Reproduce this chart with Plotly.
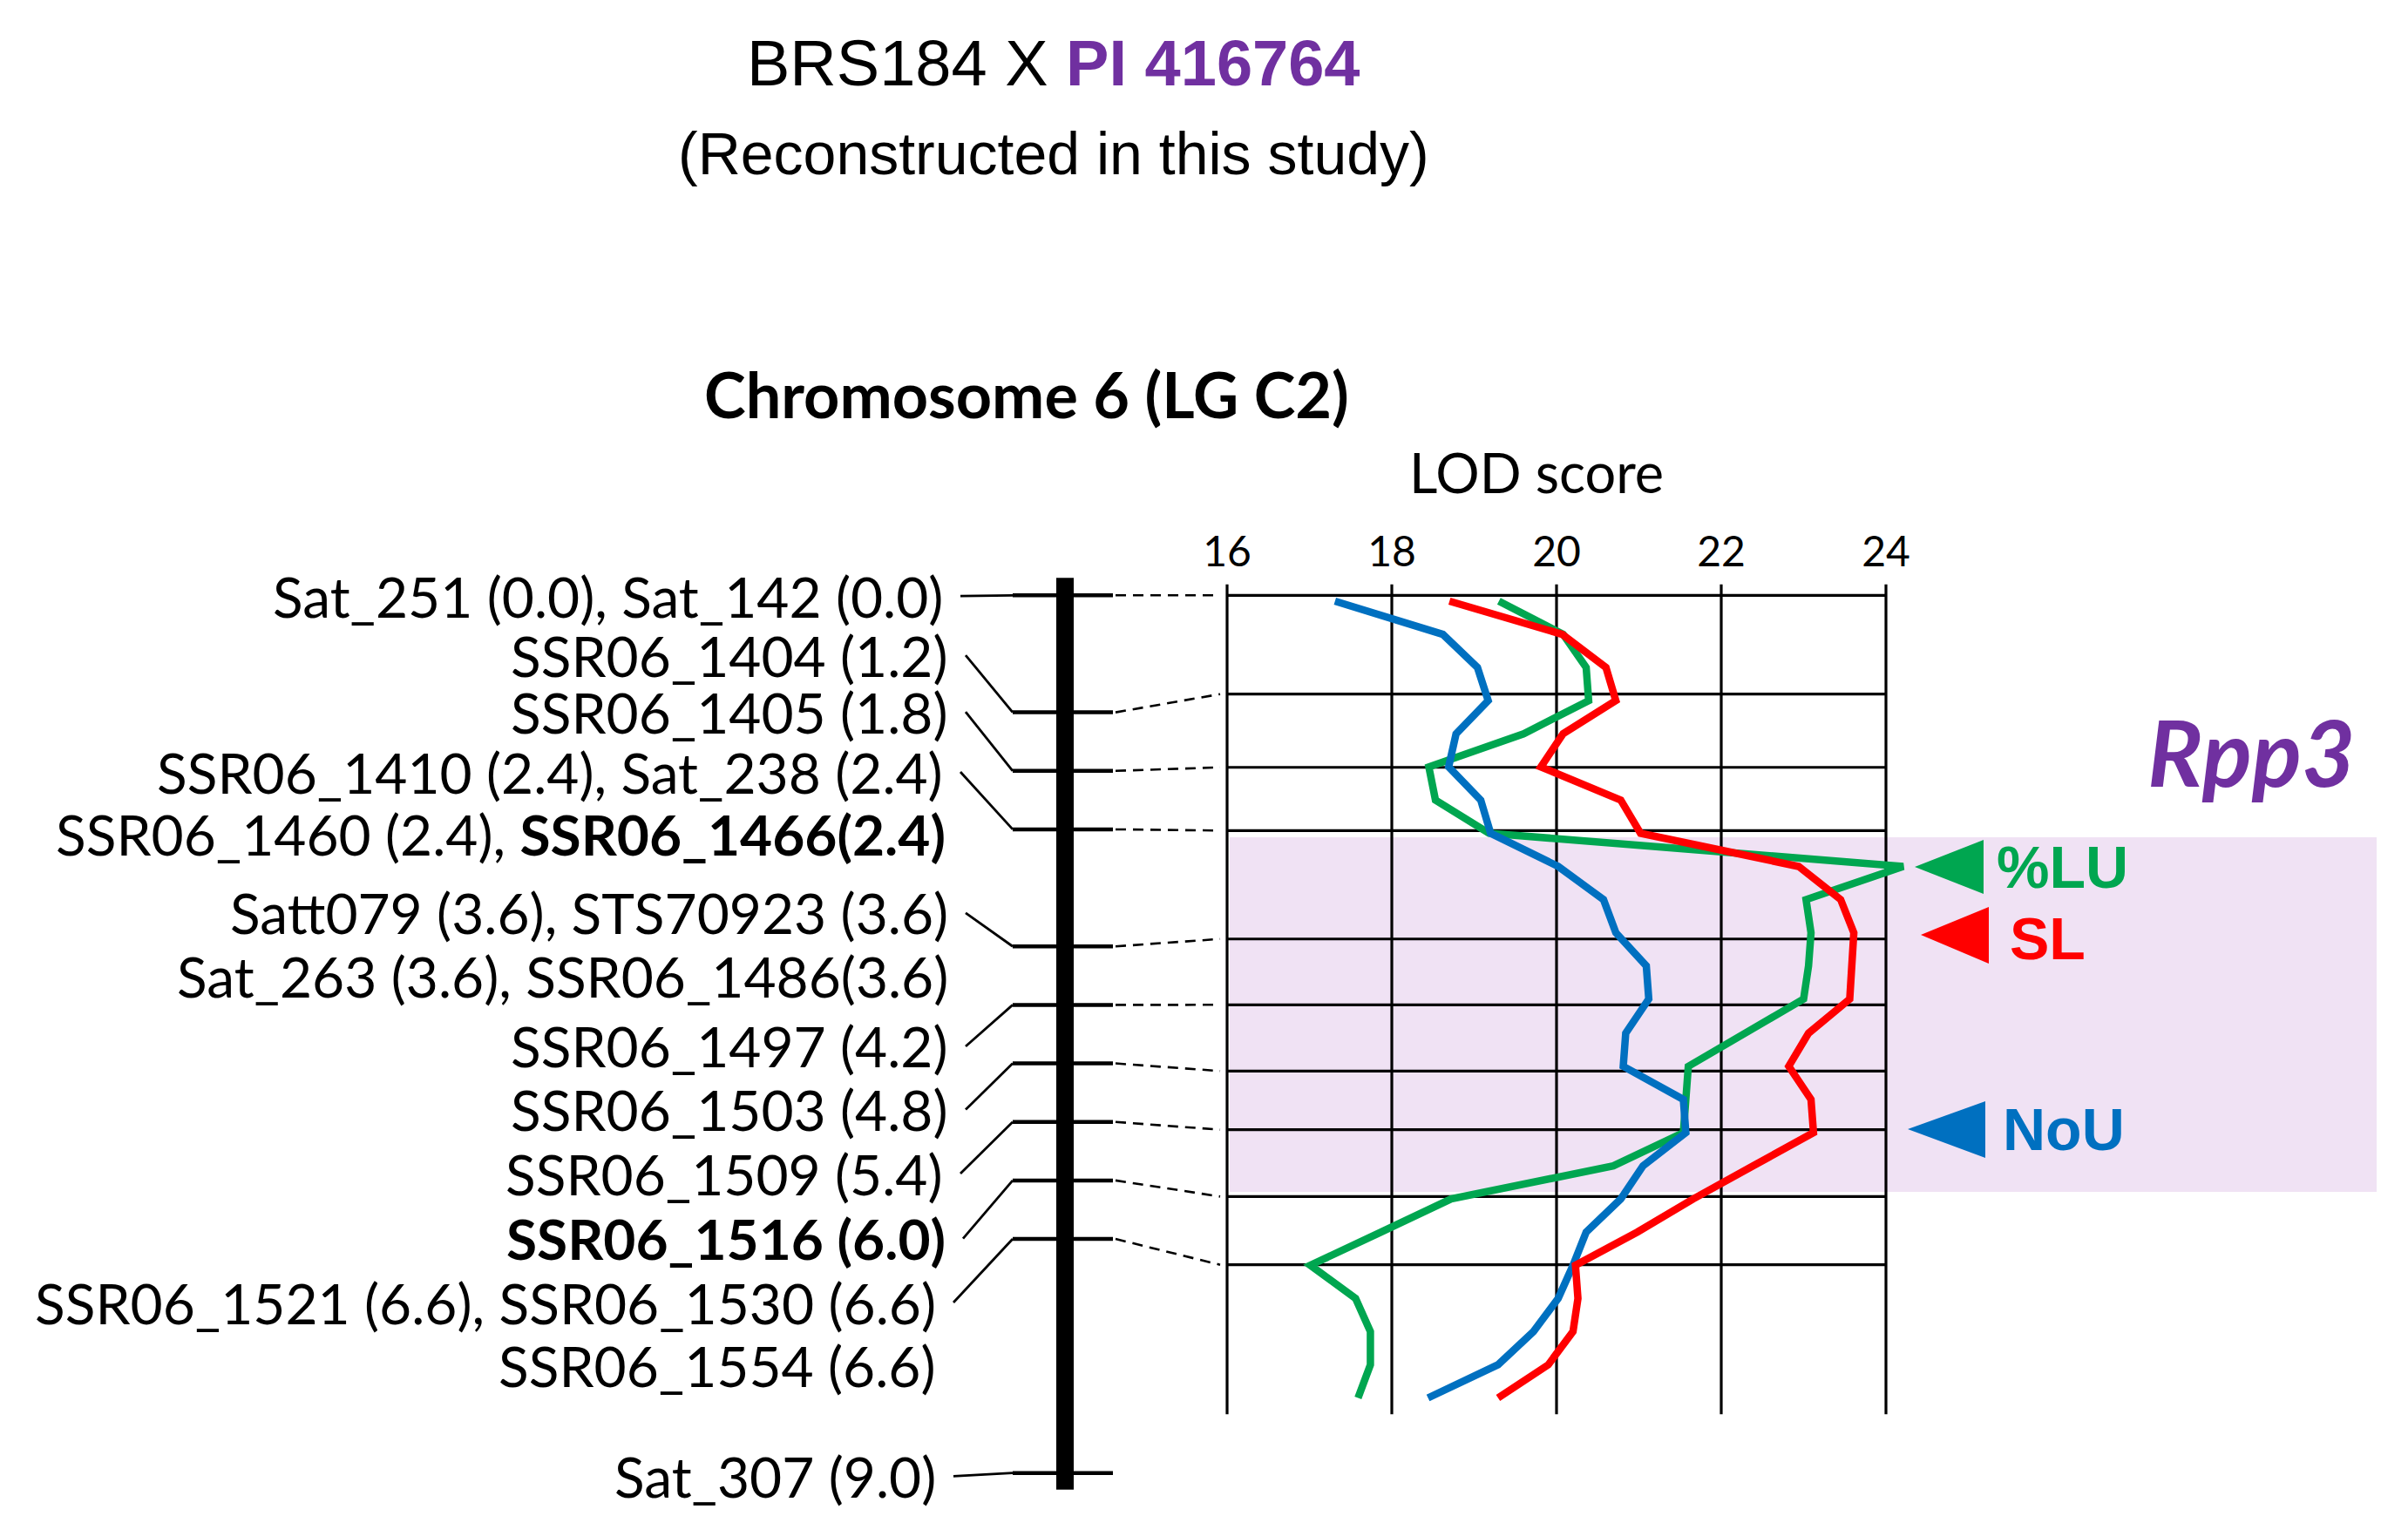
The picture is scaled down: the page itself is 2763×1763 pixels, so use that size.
import plotly.graph_objects as go

W, H = 2763, 1763

# ---------------- data ----------------
marker_cm = [0.0, 1.2, 1.8, 2.4, 3.6, 4.2, 4.8, 5.4, 6.0, 6.6, 9.0]

marker_labels = [
    "Sat_251 (0.0), Sat_142 (0.0)",
    "SSR06_1404 (1.2)",
    "SSR06_1405 (1.8)",
    "SSR06_1410 (2.4), Sat_238 (2.4)",
    "SSR06_1460 (2.4), <b>SSR06_1466(2.4)</b>",
    "Satt079 (3.6), STS70923 (3.6)",
    "Sat_263 (3.6), SSR06_1486(3.6)",
    "SSR06_1497 (4.2)",
    "SSR06_1503 (4.8)",
    "SSR06_1509 (5.4)",
    "<b>SSR06_1516 (6.0)</b>",
    "SSR06_1521 (6.6), SSR06_1530 (6.6)",
    "SSR06_1554 (6.6)",
    "Sat_307 (9.0)",
]
# which chromosome marker each label points to (None = no connector)
label_marker = [0, 1, 2, 3, None, 4, None, 5, 6, 7, 8, 9, None, 10]

# LOD panel rows (panel position of the row linked to markers 0..9)
lod_rows = [0.0, 1.013, 1.764, 2.412, 3.524, 4.199, 4.878, 5.480, 6.165, 6.865]
lod_ticks = [16, 18, 20, 22, 24]

# scan positions (panel position) and LOD profiles
scan_pos = [0.06, 0.40, 0.74, 1.08, 1.42, 1.76, 2.10, 2.44, 2.78, 3.12, 3.46, 3.80,
            4.14, 4.49, 4.83, 5.17, 5.51, 5.85, 6.19, 6.53, 6.87, 7.21, 7.55, 7.89, 8.23]
lod_nou = [17.31, 18.62, 19.04, 19.17, 18.78, 18.69, 19.08, 19.20, 20.02, 20.57, 20.72, 21.09,
           21.12, 20.84, 20.81, 21.54, 21.57, 21.05, 20.78, 20.36, 20.20, 20.02, 19.72, 19.29, 18.44]
lod_sl = [18.70, 20.07, 20.60, 20.72, 20.08, 19.81, 20.78, 21.02, 22.94, 23.45, 23.61, 23.58,
          23.56, 23.06, 22.82, 23.09, 23.12, 22.39, 21.66, 20.98, 20.23, 20.26, 20.20, 19.90, 19.29]
lod_lu = [19.30, 20.08, 20.36, 20.39, 19.60, 18.45, 18.53, 19.18, 24.21, 23.03, 23.09, 23.06,
          23.00, 22.30, 21.60, 21.57, 21.54, 20.69, 18.72, 17.87, 17.01, 17.56, 17.74, 17.74, 17.59]

# ---------------- layout constants ----------------
GREEN = "#00A650"
RED = "#FF0000"
BLUE = "#0070C0"
PURPLE = "#7030A0"
PINK = "#F0E2F4"

OFF = 8                 # default page margin of the html body
FW, FH = W - 2 * OFF, H - 2 * OFF

CM0_PX = 683.3          # screen row of 0 cM
PX_PER_CM = 111.93
PANEL_X0, PANEL_X1 = 1408.0, 2164.0   # screen column of LOD 16 and 24
PX_PER_LOD = (PANEL_X1 - PANEL_X0) / (lod_ticks[-1] - lod_ticks[0])
X2_RANGE = [15, 25]
x2_dom = [(PANEL_X0 + (X2_RANGE[0] - 16) * PX_PER_LOD - OFF) / FW,
          (PANEL_X0 + (X2_RANGE[1] - 16) * PX_PER_LOD - OFF) / FW]
y2_range = [(H - OFF - CM0_PX) / PX_PER_CM, (OFF - CM0_PX) / PX_PER_CM]

label_y = [0.008, 0.614, 1.195, 1.811, 2.454, 3.258, 3.906, 4.625, 5.274, 5.930,
           6.596, 7.252, 7.904, 9.033]
label_right = [1084, 1090, 1090, 1084, 1087, 1090, 1090, 1090, 1090, 1084, 1087, 1076, 1076, 1076]

LABEL_FONT = "Lato, Noto Sans, sans-serif"
NARROW = "Liberation Sans Narrow, Arial Narrow, Liberation Sans, Arial, sans-serif"

fig = go.Figure()

# vertical grid lines of LOD panel
vx, vy = [], []
for t in lod_ticks:
    vx += [t, t, None]
    vy += [-0.113, 8.398, None]
fig.add_trace(go.Scatter(x=vx, y=vy, xaxis="x2", yaxis="y2", mode="lines",
                         line=dict(color="black", width=3.2), hoverinfo="skip", showlegend=False))
# horizontal grid rows
hx, hy = [], []
for r in lod_rows:
    hx += [lod_ticks[0], lod_ticks[-1], None]
    hy += [r, r, None]
fig.add_trace(go.Scatter(x=hx, y=hy, xaxis="x2", yaxis="y2", mode="lines",
                         line=dict(color="black", width=3.2), hoverinfo="skip", showlegend=False))

# chromosome ticks
tx, ty = [], []
for m in marker_cm:
    tx += [1162, 1277, None]
    ty += [m, m, None]
fig.add_trace(go.Scatter(x=tx, y=ty, xaxis="x", yaxis="y2", mode="lines",
                         line=dict(color="black", width=4.5), hoverinfo="skip", showlegend=False))

# dashed connectors chromosome -> LOD rows
dx, dy = [], []
for i, r in enumerate(lod_rows):
    dx += [1280, PANEL_X0 - 8, None]
    dy += [marker_cm[i], r, None]
fig.add_trace(go.Scatter(x=dx, y=dy, xaxis="x", yaxis="y2", mode="lines",
                         line=dict(color="black", width=2.6, dash="12px,8px"),
                         hoverinfo="skip", showlegend=False))

# label connectors
cx, cy = [], []
for j, mi in enumerate(label_marker):
    if mi is None:
        continue
    cx += [label_right[j] + 18, 1162, None]
    cy += [label_y[j], marker_cm[mi], None]
fig.add_trace(go.Scatter(x=cx, y=cy, xaxis="x", yaxis="y2", mode="lines",
                         line=dict(color="black", width=2.8), hoverinfo="skip", showlegend=False))

# LOD profiles
for vals, col in [(lod_lu, GREEN), (lod_nou, BLUE), (lod_sl, RED)]:
    fig.add_trace(go.Scatter(x=vals, y=scan_pos, xaxis="x2", yaxis="y2", mode="lines",
                             line=dict(color=col, width=8.5), hoverinfo="skip", showlegend=False))

shapes = []
# Rpp3 region box
shapes.append(dict(type="rect", xref="x", yref="y2", x0=1411, x1=2727, y0=2.481, y1=6.118,
                   fillcolor=PINK, line=dict(width=0), layer="below"))
# chromosome bar
shapes.append(dict(type="rect", xref="x", yref="y2", x0=1212, x1=1232,
                   y0=-0.18, y1=9.17, fillcolor="black", line=dict(width=0), layer="below"))
# triangles
for tip, back, col in [((2197, 995), (2276, 964, 1026), GREEN),
                       ((2204, 1073), (2282, 1041, 1106), RED),
                       ((2189, 1296), (2278, 1264, 1329), BLUE)]:
    shapes.append(dict(type="path", xref="x", yref="y",
                       path=f"M {tip[0]} {tip[1]} L {back[0]} {back[1]} L {back[0]} {back[2]} Z",
                       fillcolor=col, line=dict(width=0), layer="above"))

ann = []
for j, txt in enumerate(marker_labels):
    ann.append(dict(x=label_right[j], y=label_y[j], xref="x", yref="y2", text=txt,
                    xanchor="right", yanchor="middle", showarrow=False,
                    font=dict(family=LABEL_FONT, size=64, color="black")))

ann.append(dict(x=1209, y=72, xref="x", yref="y", showarrow=False, xanchor="center", yanchor="middle",
                text=f"BRS184 X <span style='color:{PURPLE}'><b>PI 416764</b></span>",
                font=dict(family=NARROW, size=74, color="black")))
ann.append(dict(x=1209, y=176, xref="x", yref="y", showarrow=False, xanchor="center", yanchor="middle",
                text="(Reconstructed in this study)",
                font=dict(family=NARROW, size=68, color="black")))
ann.append(dict(x=1178, y=452, xref="x", yref="y", showarrow=False, xanchor="center", yanchor="middle",
                text="<b>Chromosome 6 (LG C2)</b>",
                font=dict(family=LABEL_FONT, size=72, color="black")))
ann.append(dict(x=1763, y=541, xref="x", yref="y", showarrow=False, xanchor="center", yanchor="middle",
                text="LOD score", font=dict(family=LABEL_FONT, size=63, color="black")))
ann.append(dict(x=2462, y=862, xref="x", yref="y", showarrow=False, xanchor="left", yanchor="middle",
                text="<b><i>Rpp3</i></b>", font=dict(family=LABEL_FONT, size=106, color=PURPLE)))
for x0, y0, t, col in [(2289, 995, "%LU", GREEN), (2304, 1077, "SL", RED), (2296, 1296, "NoU", BLUE)]:
    ann.append(dict(x=x0, y=y0, xref="x", yref="y", showarrow=False, xanchor="left", yanchor="middle",
                    text=f"<b>{t}</b>", font=dict(family=NARROW, size=68, color=col)))

fig.update_layout(
    width=FW, height=FH, autosize=False,
    margin=dict(l=0, r=0, t=0, b=0, pad=0),
    paper_bgcolor="white", plot_bgcolor="rgba(0,0,0,0)",
    showlegend=False,
    xaxis=dict(range=[OFF, W - OFF], domain=[0, 1], visible=False, fixedrange=True),
    yaxis=dict(range=[H - OFF, OFF], domain=[0, 1], visible=False, fixedrange=True),
    yaxis2=dict(range=y2_range, overlaying="y", visible=False, fixedrange=True),
    xaxis2=dict(range=X2_RANGE, domain=x2_dom, anchor="free", position=1 - (CM0_PX - OFF) / FH,
                side="top", tickvals=lod_ticks, ticktext=[str(t) for t in lod_ticks],
                ticks="outside", ticklen=14, tickcolor="rgba(0,0,0,0)",
                showgrid=False, zeroline=False, showline=False,
                tickfont=dict(family=LABEL_FONT, size=48, color="black"), fixedrange=True),
    shapes=shapes,
    annotations=ann,
)

fig.write_html("out.html")
